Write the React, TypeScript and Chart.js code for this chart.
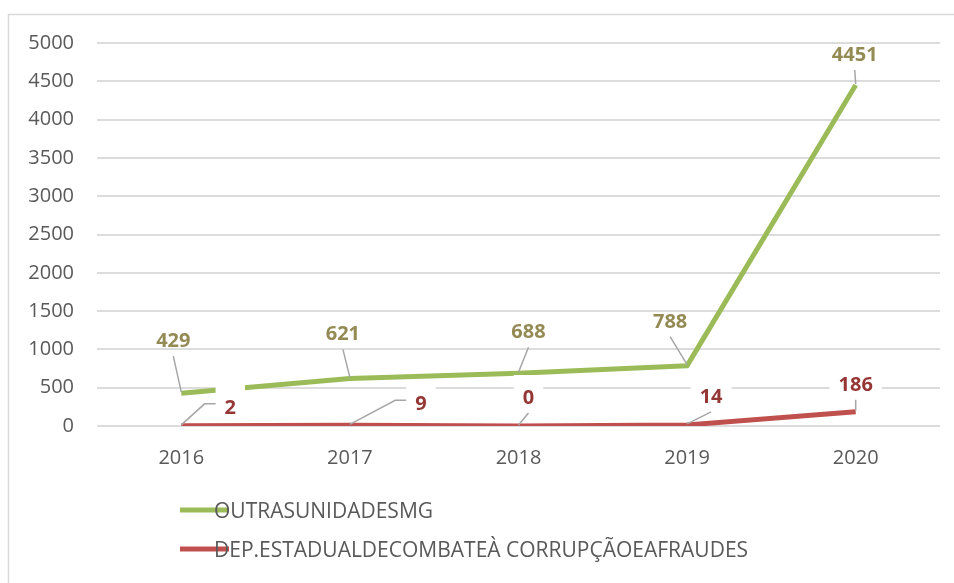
import React, { useEffect, useRef } from "react";
import { Chart, registerables } from "chart.js";

Chart.register(...registerables);

const categories = ["2016", "2017", "2018", "2019", "2020"];
const outrasUnidades = [429, 621, 688, 788, 4451];
const depEstadual = [2, 9, 0, 14, 186];
const seriesNames = ["OUTRASUNIDADESMG", "DEP.ESTADUALDECOMBATEÀ CORRUPÇÃOEAFRAUDES"];
const yMax = 5000;
const yStep = 500;

// label placement (style): pixel offsets of each data label from its point
const greenLabelOffsets = [[-8, -53], [-7, -45], [10, -42], [-17, -45], [-1, -31]];
const redLabelOffsets = [[49, -19], [71, -22], [10, -29], [24, -29], [0, -28]];

const FONT = "'Open Sans', 'DejaVu Sans', sans-serif";
const GREEN = "#9bbb59";
const RED = "#c0504d";

const labelPlugin = {
  id: "excelLabels",
  afterDatasetsDraw(chart: any) {
    const ctx = chart.ctx;
    ctx.save();
    const items: any[] = [];
    chart.data.datasets.forEach((ds: any, di: number) => {
      const meta = chart.getDatasetMeta(di);
      meta.data.forEach((pt: any, i: number) => {
        const off = ds.labelOffsets[i];
        items.push({
          px: pt.x,
          py: pt.y,
          cx: pt.x + off[0],
          cy: pt.y + off[1],
          text: String(ds.data[i]),
          color: ds.labelColor,
          padTop: ds.boxPadTop,
          padBottom: ds.boxPadBottom,
        });
      });
    });
    ctx.font = `bold 20px ${FONT}`;
    // leader lines
    ctx.strokeStyle = "#a6a6a6";
    ctx.lineWidth = 1.5;
    items.forEach((it) => {
      const w = ctx.measureText(it.text).width;
      const left = it.cx - w / 2;
      ctx.beginPath();
      if (it.cx - it.px > 35) {
        ctx.moveTo(it.px, it.py - 1);
        ctx.lineTo(left - 20, it.cy - 3);
        ctx.lineTo(left - 8, it.cy - 3);
      } else {
        ctx.moveTo(it.cx, it.cy + 16);
        ctx.lineTo(it.px, it.py - 1);
      }
      ctx.stroke();
    });
    // label boxes
    ctx.fillStyle = "#ffffff";
    items.forEach((it) => {
      const w = ctx.measureText(it.text).width;
      ctx.fillRect(it.cx - w / 2 - 9, it.cy - it.padTop, w + 18, it.padTop + it.padBottom);
    });
    // label text
    ctx.textAlign = "center";
    ctx.textBaseline = "alphabetic";
    items.forEach((it) => {
      ctx.fillStyle = it.color;
      ctx.fillText(it.text, it.cx, it.cy + 7);
    });
    ctx.restore();
  },
  afterDraw(chart: any) {
    const ctx = chart.ctx;
    ctx.save();
    // legend
    const rows = [510, 549];
    chart.data.datasets.forEach((ds: any, di: number) => {
      const y = rows[di];
      ctx.strokeStyle = ds.borderColor;
      ctx.lineWidth = 5;
      ctx.beginPath();
      ctx.moveTo(180, y);
      ctx.lineTo(229, y);
      ctx.stroke();
      ctx.fillStyle = "#595959";
      ctx.font = `21px ${FONT}`;
      ctx.textAlign = "left";
      ctx.textBaseline = "alphabetic";
      ctx.fillText(ds.label, 214, y + 8);
    });
    ctx.restore();
  },
  beforeDraw(chart: any) {
    const ctx = chart.ctx;
    ctx.save();
    ctx.fillStyle = "#ffffff";
    ctx.fillRect(0, 0, chart.width, chart.height);
    ctx.strokeStyle = "#d9d9d9";
    ctx.lineWidth = 1.5;
    ctx.strokeRect(8.5, 14.5, chart.width + 20, chart.height + 20);
    ctx.restore();
  },
};

export default function App() {
  const ref = useRef<HTMLCanvasElement | null>(null);
  useEffect(() => {
    if (!ref.current) return;
    const chart = new Chart(ref.current, {
      type: "line",
      data: {
        labels: categories,
        datasets: [
          {
            label: seriesNames[0],
            data: outrasUnidades,
            borderColor: GREEN,
            backgroundColor: GREEN,
            borderWidth: 5,
            pointRadius: 0,
            borderJoinStyle: "round",
            tension: 0,
            labelOffsets: greenLabelOffsets,
            labelColor: "#948a54",
            boxPadTop: 7,
            boxPadBottom: 7,
          } as any,
          {
            label: seriesNames[1],
            data: depEstadual,
            borderColor: RED,
            backgroundColor: RED,
            borderWidth: 5,
            pointRadius: 0,
            borderJoinStyle: "round",
            tension: 0,
            labelOffsets: redLabelOffsets,
            labelColor: "#953735",
            boxPadTop: 22,
            boxPadBottom: 10,
          } as any,
        ],
      },
      options: {
        responsive: false,
        animation: false,
        layout: { padding: { top: 43, right: 14, left: 0, bottom: 0 } },
        plugins: { legend: { display: false }, tooltip: { enabled: false } },
        scales: {
          x: {
            offset: true,
            grid: { display: false, drawTicks: false },
            border: { display: false },
            ticks: { color: "#595959", font: { family: FONT, size: 20 }, padding: 20 },
            afterFit: (s: any) => {
              s.height = 157;
            },
          },
          y: {
            min: 0,
            max: yMax,
            ticks: {
              stepSize: yStep,
              color: "#595959",
              font: { family: FONT, size: 20 },
              padding: 23,
              callback: (v: any) => String(v),
            },
            grid: { color: "#dcdcdc", lineWidth: 2, drawTicks: false },
            border: { display: false },
            afterFit: (s: any) => {
              s.width = 97;
            },
          },
        },
      },
      plugins: [labelPlugin],
    });
    return () => chart.destroy();
  }, []);
  return (
    <div style={{ position: "absolute", left: 0, top: 0, width: 954, height: 583 }}>
      <canvas ref={ref} width={954} height={583} style={{ display: "block" }} />
    </div>
  );
}
